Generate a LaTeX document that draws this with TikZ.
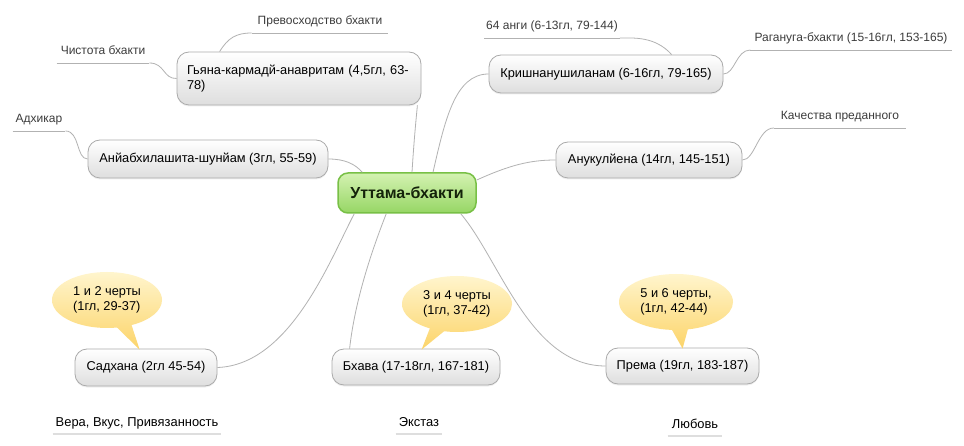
\documentclass[tikz,border=0pt]{standalone}
\usepackage{fontspec}
\setmainfont{Liberation Sans}
\usetikzlibrary{shapes.callouts,calc,shadows}
\definecolor{conn}{RGB}{178,178,178}
\definecolor{boxline}{RGB}{170,170,170}
\definecolor{boxbot}{RGB}{222,222,222}
\definecolor{grtop}{RGB}{212,242,178}
\definecolor{grbot}{RGB}{150,214,100}
\definecolor{grline}{RGB}{120,192,70}
\definecolor{yetop}{RGB}{255,245,205}
\definecolor{yebot}{RGB}{252,212,105}
\definecolor{leaftext}{RGB}{60,60,60}
\definecolor{centraltext}{RGB}{20,35,10}
\definecolor{baseline}{RGB}{222,222,222}
\begin{document}
\begin{tikzpicture}[x=1pt,y=-1pt,
  conline/.style={draw=conn,line width=0.8pt},
  topicbox/.style={rounded corners=12pt,draw=boxline,line width=0.8pt,top color=white,bottom color=boxbot,
    font=\fontsize{12.8}{15.5}\selectfont,inner sep=0pt,align=center,
    drop shadow={opacity=0.12,shadow xshift=0pt,shadow yshift=-1.5pt}},
  centralbox/.style={rounded corners=10pt,draw=grline,line width=1.5pt,top color=grtop,bottom color=grbot,
    font=\fontsize{16}{19}\selectfont\bfseries,text=centraltext,inner sep=0pt,minimum width=138pt,minimum height=40pt},
  leafnote/.style={anchor=south,inner xsep=5pt,inner ysep=0pt,text height=8.5pt,text depth=8.5pt,
    font=\fontsize{12}{14}\selectfont,text=leaftext},
  bottomnote/.style={anchor=south,inner xsep=3pt,inner ysep=0pt,text height=9pt,text depth=7pt,
    font=\fontsize{12.9}{15}\selectfont,text=black},
  leafline/.style={draw=conn,line width=0.8pt},
  bottomline/.style={draw=baseline,line width=1.6pt},
  bubble/.style={ellipse callout,top color=yetop,bottom color=yebot,inner sep=0pt,
    minimum width=110pt,minimum height=56pt,align=left,font=\fontsize{12.8}{15.5}\selectfont,callout pointer arc=16}
]
\fill[white] (0,0) rectangle (964,446);
\useasboundingbox (0,0) rectangle (964,446);

% main topics
\node[centralbox] (c) at (407,193) {Уттама-бхакти};
\node[topicbox,minimum width=244pt,minimum height=53pt,text width=224pt,align=left] (gy) at (299,78.5)
  {Гьяна-кармадй-анавритам (4,5гл, 63-\\78)};
\node[topicbox,minimum width=240pt,minimum height=38pt] (anya) at (208,159) {Анйабхилашита-шунйам (3гл, 55-59)};
\node[topicbox,minimum width=234pt,minimum height=38pt] (kr) at (606,74) {Кришнанушиланам (6-16гл, 79-165)};
\node[topicbox,minimum width=186pt,minimum height=36pt] (anuk) at (649,160) {Анукулйена (14гл, 145-151)};
\node[topicbox,minimum width=142pt,minimum height=37pt] (sad) at (146,367.5) {Садхана (2гл 45-54)};
\node[topicbox,minimum width=168pt,minimum height=36pt] (bh) at (416,367) {Бхава (17-18гл, 167-181)};
\node[topicbox,minimum width=153pt,minimum height=36pt] (pr) at (682.5,366) {Према (19гл, 183-187)};

% leaf notes
\node[leafnote,inner xsep=6pt] (prev) at (320,33) {Превосходство бхакти};
\node[leafnote,inner xsep=4pt] (chist) at (103,63) {Чистота бхакти};
\node[leafnote,inner xsep=3pt] (adh) at (39,131) {Адхикар};
\node[leafnote,inner xsep=2pt] (anga) at (552,38) {64 анги (6-13гл, 79-144)};
\node[leafnote,inner xsep=4pt] (raga) at (851,50) {Рагануга-бхакти (15-16гл, 153-165)};
\node[leafnote,inner xsep=7pt] (kach) at (840,128) {Качества преданного};
\foreach \n in {prev,chist,adh,anga,raga,kach}{\draw[leafline] (\n.south west) -- (\n.south east);}

% bottom notes
\node[bottomnote] (vera) at (137,434) {Вера, Вкус, Привязанность};
\node[bottomnote] (ekst) at (419,434) {Экстаз};
\node[bottomnote,inner xsep=4pt] (lub) at (695,436) {Любовь};
\foreach \n in {vera,ekst,lub}{\draw[bottomline] (\n.south west) -- (\n.south east);}

% callouts
\node[bubble,callout absolute pointer={($(sad.north west)+(65,1)$)}] (b1) at (107,300) {1 и 2 черты\\(1гл, 29-37)};
\node[bubble,callout absolute pointer={($(bh.north west)+(90,1)$)}] (b2) at (457,304) {3 и 4 черты\\(1гл, 37-42)};
\node[bubble,minimum width=114pt,callout absolute pointer={($(pr.north west)+(77,1)$)}] (b3) at (676,302) {5 и 6 черты,\\(1гл, 42-44)};

% connectors from centre
\draw[conline] ($(c.north)+(5,0)$) .. controls (414,140) and (416,120) .. ($(gy.south east)+(-4,0)$);
\draw[conline] ($(c.north)+(26,0)$) .. controls (445,120) and (455,74) .. (kr.west);
\draw[conline] (anya.east) .. controls (345,159) and (355,164) .. ($(c.north west)+(25,0)$);
\draw[conline] ($(c.east)+(0,-13)$) .. controls (510,165) and (530,160) .. (anuk.west);
\draw[conline] (sad.east) .. controls (290,365) and (330,260) .. ($(c.south west)+(17,0)$);
\draw[conline] ($(bh.north west)+(18,0)$) .. controls (355,300) and (372,250) .. ($(c.south west)+(49,0)$);
\draw[conline] ($(c.south east)+(-16,0)$) .. controls (500,260) and (530,366) .. (pr.west);

% connectors to leaves
\draw[conline] ($(gy.north west)+(43,0)$) .. controls (228,38) and (236,33) .. (prev.south west);
\draw[conline] (chist.south east) .. controls (165,63) and (163,79) .. (gy.west);
\draw[conline] (adh.south east) .. controls (80,131) and (76,159) .. (anya.west);
\draw[conline] (anga.south east) -- (630,38) .. controls (652,38) and (664,46) .. ($(kr.north west)+(183,0)$);
\draw[conline] (kr.east) .. controls (735,74) and (736,50) .. (raga.south west);
\draw[conline] (anuk.east) .. controls (755,160) and (758,128) .. (kach.south west);
\end{tikzpicture}
\end{document}
